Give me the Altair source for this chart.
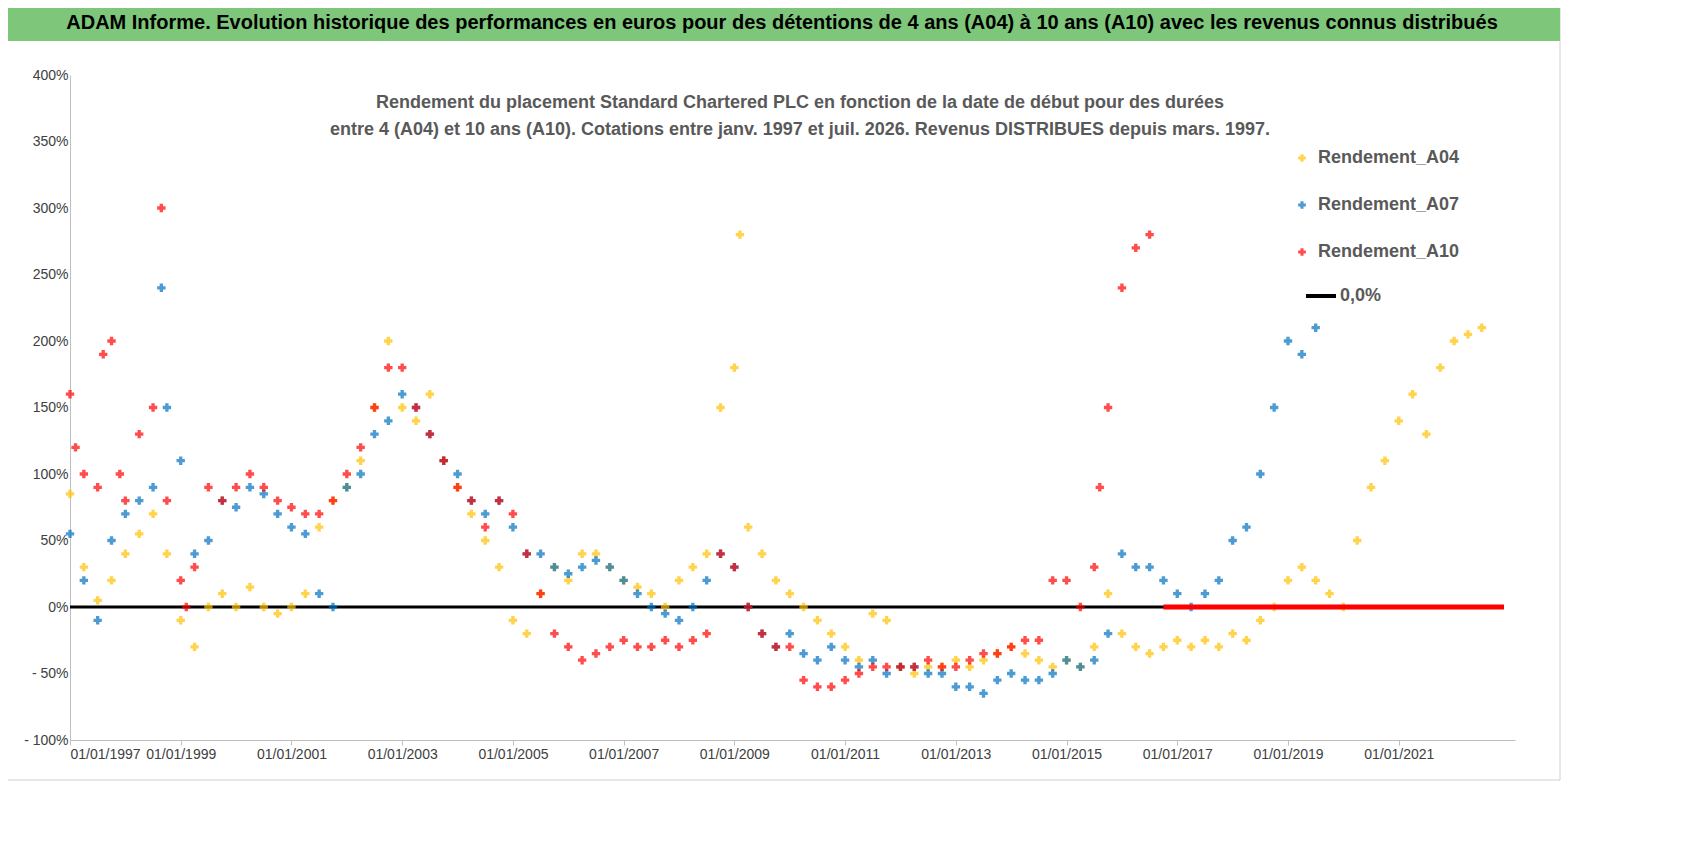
import altair as alt
import pandas as pd

# A04 (yellow) : date as fractional year, return in %
a04_t = [1997.0, 1997.25, 1997.5, 1997.75, 1998.0, 1998.25, 1998.5, 1998.75, 1999.0, 1999.25, 1999.5, 1999.75,
         2000.0, 2000.25, 2000.5, 2000.75, 2001.0, 2001.25, 2001.5, 2001.75, 2002.0, 2002.25, 2002.5, 2002.75,
         2003.0, 2003.25, 2003.5, 2003.75, 2004.0, 2004.25, 2004.5, 2004.75, 2005.0, 2005.25, 2005.5, 2005.75,
         2006.0, 2006.25, 2006.5, 2006.75, 2007.0, 2007.25, 2007.5, 2007.75, 2008.0, 2008.25, 2008.5, 2008.75,
         2009.0, 2009.1, 2009.25, 2009.5, 2009.75, 2010.0, 2010.25, 2010.5, 2010.75, 2011.0, 2011.25, 2011.5,
         2011.75, 2012.0, 2012.25, 2012.5, 2012.75, 2013.0, 2013.25, 2013.5, 2013.75, 2014.0, 2014.25, 2014.5,
         2014.75, 2015.0, 2015.25, 2015.5, 2015.75, 2016.0, 2016.25, 2016.5, 2016.75, 2017.0, 2017.25, 2017.5,
         2017.75, 2018.0, 2018.25, 2018.5, 2018.75, 2019.0, 2019.25, 2019.5, 2019.75, 2020.0, 2020.25, 2020.5,
         2020.75, 2021.0, 2021.25, 2021.5, 2021.75, 2022.0, 2022.25, 2022.5]
a04_v = [85, 30, 5, 20, 40, 55, 70, 40, -10, -30, 0, 10,
         0, 15, 0, -5, 0, 10, 60, 80, 90, 110, 150, 200,
         150, 140, 160, 110, 90, 70, 50, 30, -10, -20, 10, 30,
         20, 40, 40, 30, 20, 15, 10, 0, 20, 30, 40, 150,
         180, 280, 60, 40, 20, 10, 0, -10, -20, -30, -40, -5,
         -10, -45, -50, -45, -45, -40, -45, -40, -35, -30, -35, -40,
         -45, -40, -45, -30, 10, -20, -30, -35, -30, -25, -30, -25,
         -30, -20, -25, -10, 0, 20, 30, 20, 10, 0, 50, 90,
         110, 140, 160, 130, 180, 200, 205, 210]

# A07 (blue)
a07_t = [1997.0, 1997.25, 1997.5, 1997.75, 1998.0, 1998.25, 1998.5, 1998.65, 1998.75, 1999.0, 1999.25, 1999.5,
         1999.75, 2000.0, 2000.25, 2000.5, 2000.75, 2001.0, 2001.25, 2001.5, 2001.75, 2002.0, 2002.25, 2002.5,
         2002.75, 2003.0, 2003.25, 2003.5, 2003.75, 2004.0, 2004.25, 2004.5, 2004.75, 2005.0, 2005.25, 2005.5,
         2005.75, 2006.0, 2006.25, 2006.5, 2006.75, 2007.0, 2007.25, 2007.5, 2007.75, 2008.0, 2008.25, 2008.5,
         2008.75, 2009.0, 2009.25, 2009.5, 2009.75, 2010.0, 2010.25, 2010.5, 2010.75, 2011.0, 2011.25, 2011.5,
         2011.75, 2012.0, 2012.25, 2012.5, 2012.75, 2013.0, 2013.25, 2013.5, 2013.75, 2014.0, 2014.25, 2014.5,
         2014.75, 2015.0, 2015.25, 2015.5, 2015.75, 2016.0, 2016.25, 2016.5, 2016.75, 2017.0, 2017.25, 2017.5,
         2017.75, 2018.0, 2018.25, 2018.5, 2018.75, 2019.0, 2019.25, 2019.5]
a07_v = [55, 20, -10, 50, 70, 80, 90, 240, 150, 110, 40, 50,
         80, 75, 90, 85, 70, 60, 55, 10, 0, 90, 100, 130,
         140, 160, 150, 130, 110, 100, 80, 70, 80, 60, 40, 40,
         30, 25, 30, 35, 30, 20, 10, 0, -5, -10, 0, 20,
         40, 30, 0, -20, -30, -20, -35, -40, -30, -40, -45, -40,
         -50, -45, -45, -50, -50, -60, -60, -65, -55, -50, -55, -55,
         -50, -40, -45, -40, -20, 40, 30, 30, 20, 10, 0, 10,
         20, 50, 60, 100, 150, 200, 190, 210]

# A10 (red)
a10_t = [1997.0, 1997.1, 1997.25, 1997.5, 1997.6, 1997.75, 1997.9, 1998.0, 1998.25, 1998.5, 1998.65, 1998.75,
         1999.0, 1999.1, 1999.25, 1999.5, 1999.75, 2000.0, 2000.25, 2000.5, 2000.75, 2001.0, 2001.25, 2001.5,
         2001.75, 2002.0, 2002.25, 2002.5, 2002.75, 2003.0, 2003.25, 2003.5, 2003.75, 2004.0, 2004.25, 2004.5,
         2004.75, 2005.0, 2005.25, 2005.5, 2005.75, 2006.0, 2006.25, 2006.5, 2006.75, 2007.0, 2007.25, 2007.5,
         2007.75, 2008.0, 2008.25, 2008.5, 2008.75, 2009.0, 2009.25, 2009.5, 2009.75, 2010.0, 2010.25, 2010.5,
         2010.75, 2011.0, 2011.25, 2011.5, 2011.75, 2012.0, 2012.25, 2012.5, 2012.75, 2013.0, 2013.25, 2013.5,
         2013.75, 2014.0, 2014.25, 2014.5, 2014.75, 2015.0, 2015.25, 2015.5, 2015.6, 2015.75, 2016.0, 2016.25,
         2016.5]
a10_v = [160, 120, 100, 90, 190, 200, 100, 80, 130, 150, 300, 80,
         20, 0, 30, 90, 80, 90, 100, 90, 80, 75, 70, 70,
         80, 100, 120, 150, 180, 180, 150, 130, 110, 90, 80, 60,
         80, 70, 40, 10, -20, -30, -40, -35, -30, -25, -30, -30,
         -25, -30, -25, -20, 40, 30, 0, -20, -30, -30, -55, -60,
         -60, -55, -50, -45, -45, -45, -45, -40, -45, -45, -40, -35,
         -35, -30, -25, -25, 20, 20, 0, 30, 90, 150, 240, 270,
         280]
# A10 values flat at 0 % after mid-2016
a10_zero_start = 2016.75
zero_end = 2022.9

x_ticks = [1997, 1999, 2001, 2003, 2005, 2007, 2009, 2011, 2013, 2015, 2017, 2019, 2021]
y_ticks = [-100, -50, 0, 50, 100, 150, 200, 250, 300, 350, 400]

series_names = ["Rendement_A04", "Rendement_A07", "Rendement_A10"]
series_colors = ["#FFC000", "#0070C0", "#FF0000"]

pts = pd.concat([
    pd.DataFrame({"t": a04_t, "v": a04_v, "s": series_names[0]}),
    pd.DataFrame({"t": a07_t, "v": a07_v, "s": series_names[1]}),
    pd.DataFrame({"t": a10_t, "v": a10_v, "s": series_names[2]}),
])

W, H = 1445, 665
font = "Liberation Sans, sans-serif"

xs = alt.Scale(domain=[1997, 2023.1], nice=False, zero=False)
ys = alt.Scale(domain=[-100, 400], nice=False)

points = alt.Chart(pts).mark_point(shape="cross", filled=True, size=70, clip=False).encode(
    x=alt.X("t:Q", scale=xs, axis=alt.Axis(values=x_ticks, labelExpr="'01/01/' + datum.value",
                                           title=None, grid=False, labelFontSize=14, labelColor="#404040",
                                           labelFont=font, domainColor="#bfbfbf", tickColor="#bfbfbf")),
    y=alt.Y("v:Q", scale=ys, axis=alt.Axis(values=y_ticks, title=None, grid=False, labelFontSize=14,
                                           labelColor="#404040", labelFont=font, domainColor="#bfbfbf",
                                           ticks=False,
                                           labelExpr="datum.value < 0 ? '- ' + (-datum.value) + '%' : datum.value + '%'")),
    color=alt.Color("s:N", scale=alt.Scale(domain=series_names, range=series_colors), legend=None),
)

zero_df = pd.DataFrame({"a": [1997.0], "b": [zero_end], "y": [0]})
zero_line = alt.Chart(zero_df).mark_rule(color="black", strokeWidth=3).encode(
    x=alt.X("a:Q", scale=xs), x2="b:Q", y=alt.Y("y:Q", scale=ys))
red_df = pd.DataFrame({"a": [a10_zero_start], "b": [zero_end], "y": [0]})
red_line = alt.Chart(red_df).mark_rule(color="#FF0000", strokeWidth=5).encode(
    x=alt.X("a:Q", scale=xs), x2="b:Q", y=alt.Y("y:Q", scale=ys))

# outer frame and green title bar
frame = alt.Chart(zero_df).mark_rect(fillOpacity=0, stroke="#d0d0d0", clip=False).encode(
    x=alt.value(-65), x2=alt.value(1490), y=alt.value(-70), y2=alt.value(705))
bar = alt.Chart(zero_df).mark_rect(color="#7DC67A", clip=False).encode(
    x=alt.value(-65), x2=alt.value(1490), y=alt.value(-70), y2=alt.value(-34))
title = alt.Chart(zero_df).mark_text(
    text="ADAM Informe. Evolution historique des performances en euros pour des détentions de 4 ans (A04) à 10 ans (A10) avec les revenus connus distribués",
    font=font, fontSize=20, fontWeight="bold", color="black", clip=False).encode(
    x=alt.value(712), y=alt.value(-52))
sub = alt.Chart(zero_df).mark_text(
    text=["Rendement du placement Standard Chartered PLC en fonction de la date de début pour des durées",
          "entre 4 (A04) et 10 ans (A10).  Cotations entre janv. 1997 et juil. 2026. Revenus DISTRIBUES depuis mars. 1997."],
    font=font, fontSize=18, fontWeight="bold", color="#595959", lineHeight=27).encode(
    x=alt.value(730), y=alt.value(28))

leg = pd.DataFrame({"s": series_names, "py": [83, 130, 177]})
leg_pts = alt.Chart(leg).mark_point(shape="cross", filled=True, size=60).encode(
    x=alt.value(1232), y=alt.Y("py:Q", scale=None),
    color=alt.Color("s:N", scale=alt.Scale(domain=series_names, range=series_colors), legend=None))
leg_txt = alt.Chart(leg).mark_text(align="left", font=font, fontSize=18, fontWeight="bold", color="#595959").encode(
    x=alt.value(1248), y=alt.Y("py:Q", scale=None), text="s:N")
leg0 = alt.Chart(zero_df).mark_rule(color="black", strokeWidth=4).encode(
    x=alt.value(1236), x2=alt.value(1266), y=alt.value(221))
leg0t = alt.Chart(zero_df).mark_text(text="0,0%", align="left", font=font, fontSize=18, fontWeight="bold",
                                     color="#595959").encode(x=alt.value(1270), y=alt.value(221))

chart = alt.layer(frame, bar, title, sub, zero_line, points, red_line, leg_pts, leg_txt, leg0, leg0t).properties(
    width=W, height=H,
    autosize=alt.AutoSizeParams(type="none"),
    padding={"left": 62, "top": 67, "right": 160, "bottom": 60},
).configure_view(stroke=None)

chart.save("out.html", embed_options={"renderer": "svg", "actions": False})
